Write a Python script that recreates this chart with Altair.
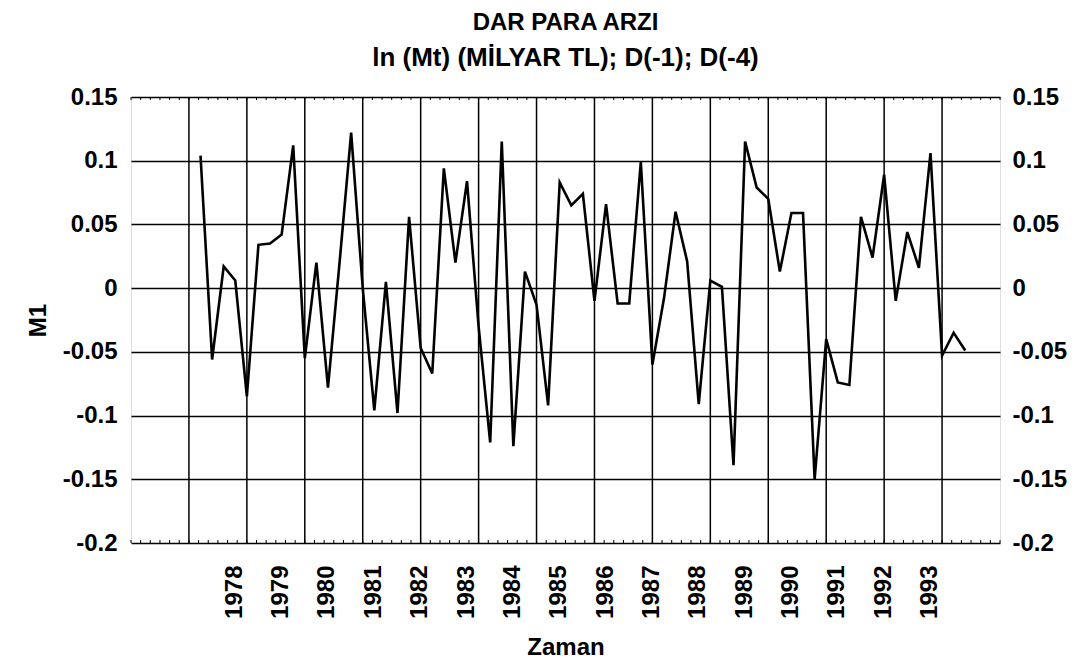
import altair as alt
import pandas as pd

# Quarterly series, first observation 1977 Q2
start_year = 1977
start_quarter = 2
m1_values = [
    0.104, -0.056, 0.017, 0.006, -0.085, 0.034, 0.035, 0.042, 0.112, -0.055,
    0.020, -0.078, 0.020, 0.122, 0.000, -0.096, 0.005, -0.098, 0.056, -0.047,
    -0.067, 0.094, 0.020, 0.084, -0.030, -0.121, 0.115, -0.124, 0.013, -0.013,
    -0.092, 0.083, 0.065, 0.074, -0.010, 0.066, -0.012, -0.012, 0.099, -0.060,
    -0.008, 0.060, 0.021, -0.091, 0.006, 0.001, -0.139, 0.115, 0.079, 0.070,
    0.013, 0.059, 0.059, -0.150, -0.040, -0.074, -0.076, 0.056, 0.024, 0.089,
    -0.010, 0.044, 0.016, 0.106, -0.053, -0.035, -0.049,
]
year_labels = list(range(1978, 1994))
y_ticks = [0.15, 0.1, 0.05, 0, -0.05, -0.1, -0.15, -0.2]
x_domain = [1975.75, 1994.5]
grid_start = 1977.0
grid_step = 1.25
grid_count = 14
minor_per_grid = 6

rows = []
for i, v in enumerate(m1_values):
    q_index = (start_quarter - 1) + i
    rows.append({"t": start_year + q_index / 4.0, "M1": v})
df = pd.DataFrame(rows)

grid_df = pd.DataFrame({"t": [grid_start + grid_step * k for k in range(grid_count)]})
n_minor = int(round((x_domain[1] - x_domain[0]) / (grid_step / minor_per_grid)))
minor_df = pd.DataFrame({"t": [x_domain[0] + k * grid_step / minor_per_grid for k in range(n_minor + 1)]})

FONT = "Liberation Sans"
FS = 24
WEIGHT = "bold"
W, H = 869, 446

x_scale = alt.Scale(domain=x_domain, nice=False, zero=False)
y_scale = alt.Scale(domain=[-0.2, 0.15], nice=False, zero=False)

x_axis = alt.Axis(
    values=year_labels, labelExpr="'' + datum.value", labelAngle=270,
    ticks=False, grid=False, domain=False, labelPadding=22, labelOffset=-1,
    labelFontSize=FS, labelFont=FONT, labelFontWeight=WEIGHT, labelColor="black",
    titleFontSize=FS, titleFont=FONT, titleFontWeight=WEIGHT, titleColor="black",
    titlePadding=17, labelOverlap=False,
)


def xenc():
    return alt.X("t:Q", scale=x_scale, title="Zaman", axis=x_axis)


grid = alt.Chart(grid_df).mark_rule(color="black", strokeWidth=1.5).encode(x=xenc())

minor_bottom = alt.Chart(minor_df).mark_rule(color="black", strokeWidth=1).encode(
    x=xenc(), y=alt.value(H - 3), y2=alt.value(H),
)
minor_top = alt.Chart(minor_df).mark_rule(color="black", strokeWidth=1).encode(
    x=xenc(), y=alt.value(0), y2=alt.value(3),
)

line = alt.Chart(df).mark_line(color="black", strokeWidth=2.6).encode(
    x=xenc(),
    y=alt.Y(
        "M1:Q", scale=y_scale, title="M1",
        axis=alt.Axis(
            values=y_ticks, labelExpr="'' + datum.value", orient="left",
            ticks=False, grid=True, gridColor="black", gridWidth=1.5, gridOpacity=1,
            domain=False, labelPadding=14,
            labelFontSize=FS, labelFont=FONT, labelFontWeight=WEIGHT, labelColor="black",
            titleFontSize=FS, titleFont=FONT, titleFontWeight=WEIGHT, titleColor="black",
            titlePadding=12,
        ),
    ),
)

right_axis = alt.Chart(df).mark_line(strokeOpacity=0).encode(
    x=xenc(),
    y=alt.Y(
        "M1:Q", scale=y_scale, title=None,
        axis=alt.Axis(
            values=y_ticks, labelExpr="'' + datum.value", orient="right",
            ticks=False, grid=False, domain=False, labelPadding=12,
            labelFontSize=FS, labelFont=FONT, labelFontWeight=WEIGHT, labelColor="black",
        ),
    ),
)

chart = alt.layer(grid, minor_bottom, minor_top, line, right_axis).resolve_axis(
    y="independent"
).properties(
    width=W, height=H,
    title=alt.TitleParams(
        text="DAR PARA ARZI",
        subtitle="ln (Mt) (MİLYAR TL); D(-1); D(-4)",
        fontSize=FS, font=FONT, fontWeight=WEIGHT, color="black",
        subtitleFontSize=26, subtitleFont=FONT, subtitleFontWeight=WEIGHT,
        subtitleColor="black", subtitlePadding=10,
        offset=14, anchor="middle",
    ),
    autosize=alt.AutoSizeParams(type="none"),
    padding={"left": 131, "top": 97, "right": 76, "bottom": 119},
).configure_view(stroke="black", strokeWidth=2).configure(background="white")

chart.save("out.html", embed_options={"renderer": "svg", "actions": False})
